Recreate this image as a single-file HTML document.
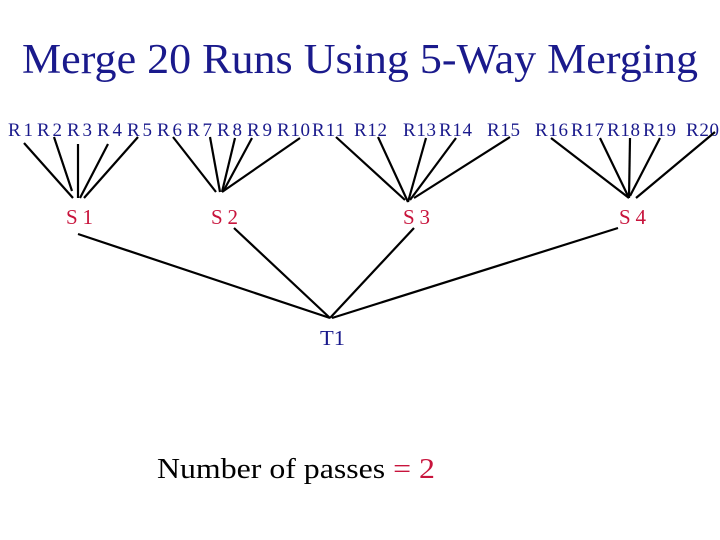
<!DOCTYPE html>
<html><head><style>
body{margin:0;background:#fff;}
svg{display:block;font-family:"Liberation Serif",serif;}
</style></head><body>
<svg width="720" height="540" xmlns="http://www.w3.org/2000/svg">
<text x="22" y="73" font-size="42" fill="#1a1a8c" textLength="676" lengthAdjust="spacingAndGlyphs">Merge 20 Runs Using 5-Way Merging</text>
<g font-size="19" fill="#1a1a8c" lengthAdjust="spacingAndGlyphs">
<text x="8" y="136" textLength="25">R1</text><text x="37" y="136" textLength="25">R2</text><text x="67" y="136" textLength="25">R3</text><text x="97" y="136" textLength="25">R4</text><text x="127" y="136" textLength="25">R5</text>
<text x="157" y="136" textLength="25">R6</text><text x="187" y="136" textLength="25">R7</text><text x="217" y="136" textLength="25">R8</text><text x="247" y="136" textLength="25">R9</text><text x="277" y="136" textLength="33">R10</text>
<text x="312" y="136" textLength="33">R11</text><text x="354" y="136" textLength="33">R12</text><text x="403" y="136" textLength="33">R13</text><text x="439" y="136" textLength="33">R14</text><text x="487" y="136" textLength="33">R15</text>
<text x="535" y="136" textLength="33">R16</text><text x="571" y="136" textLength="33">R17</text><text x="607" y="136" textLength="33">R18</text><text x="643" y="136" textLength="33">R19</text><text x="686" y="136" textLength="33">R20</text>
</g>
<g stroke="#000" stroke-width="2.2">
<line x1="24" y1="143" x2="73" y2="198"/><line x1="54" y1="137" x2="72" y2="191"/><line x1="78" y1="144" x2="78" y2="198"/><line x1="108" y1="144" x2="80" y2="198"/><line x1="138" y1="137" x2="84" y2="198"/>
<line x1="173" y1="137" x2="216" y2="192"/><line x1="210" y1="137" x2="220" y2="192"/><line x1="235" y1="138" x2="222" y2="192"/><line x1="252" y1="138" x2="224" y2="190"/><line x1="300" y1="138" x2="222" y2="192"/>
<line x1="336" y1="137" x2="405" y2="200"/><line x1="378" y1="137" x2="408" y2="202"/><line x1="426" y1="138" x2="408" y2="202"/><line x1="456" y1="138" x2="410" y2="200"/><line x1="510" y1="137" x2="414" y2="198"/>
<line x1="551" y1="138" x2="629" y2="198"/><line x1="600" y1="138" x2="629" y2="198"/><line x1="630" y1="138" x2="629" y2="198"/><line x1="660" y1="138" x2="630" y2="196"/><line x1="715" y1="132" x2="636" y2="198"/>
<line x1="78" y1="234" x2="330" y2="318"/><line x1="234" y1="228" x2="330" y2="318"/><line x1="414" y1="228" x2="330" y2="318"/><line x1="618" y1="228" x2="332" y2="318"/>
</g>
<g font-size="21" fill="#c8143c" lengthAdjust="spacingAndGlyphs">
<text x="66" y="224" textLength="27">S1</text><text x="211" y="224" textLength="27">S2</text><text x="403" y="224" textLength="27">S3</text><text x="619" y="224" textLength="27">S4</text>
</g>
<text x="320" y="345" font-size="21" fill="#1a1a8c" textLength="25" lengthAdjust="spacingAndGlyphs">T1</text>
<text x="157" y="478" font-size="28" fill="#000" textLength="278" lengthAdjust="spacingAndGlyphs">Number of passes <tspan fill="#c8143c">= 2</tspan></text>
</svg>
</body></html>
